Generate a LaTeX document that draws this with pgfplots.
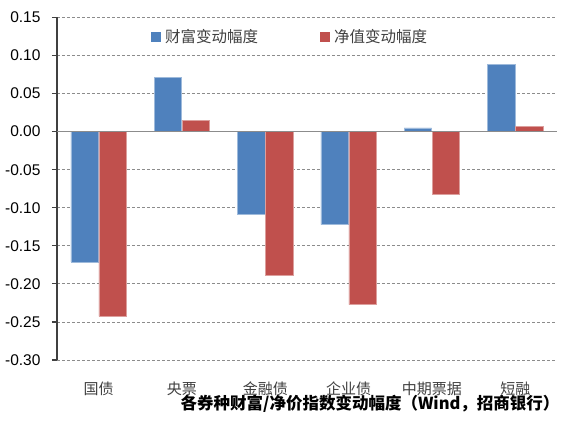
\documentclass[border=0pt]{standalone}
\usepackage{fontspec}
\setmainfont{Liberation Sans}
\newfontfamily\cjk{Noto Sans CJK SC}
\usepackage{pgfplots}
\pgfplotsset{compat=1.18}

\definecolor{wblue}{HTML}{4F81BD}
\definecolor{wred}{HTML}{C0504D}
\definecolor{tickgray}{HTML}{404040}

\begin{document}
\begin{tikzpicture}
\path[use as bounding box] (-57pt,-63pt) rectangle (509pt,360pt);
\begin{axis}[
    at={(0pt,0pt)}, anchor=south west,
    scale only axis,
    width=500pt, height=342.5pt,
    ybar=0.5pt,
    bar width=27.5pt,
    xmin=-0.5, xmax=5.5,
    ymin=-0.30, ymax=0.15,
    xtick={0,1,2,3,4,5},
    xticklabels={国债,央票,金融债,企业债,中期票据,短融},
    ytick={-0.30,-0.25,-0.20,-0.15,-0.10,-0.05,0,0.05,0.10,0.15},
    axis y line=left,
    axis x line=bottom,
    axis line style={-},
    x axis line style={draw=none},
    y axis line style={draw=black!75, line width=1.2pt},
    tick align=outside,
    major tick length=5pt,
    ytick style={draw=black!75, line width=1.2pt},
    xtick style={draw=none},
    ymajorgrids=true,
    grid style={densely dashed, black!45, line width=0.8pt},
    yticklabel style={font=\fontsize{15.5}{15.5}\selectfont, text=black, xshift=-8pt},
    xticklabel style={font=\cjk\fontsize{15}{15}\selectfont, text=tickgray, yshift=-13pt},
    /pgf/number format/.cd, fixed, fixed zerofill, precision=2, assume math mode=true,
    /pgfplots/.cd,
    legend columns=2,
    legend style={at={(0.188,0.943)}, anchor=west, draw=none, fill=none,
        inner sep=0pt, nodes={inner sep=0pt, font=\cjk\fontsize{15.5}{15.5}\selectfont, text=tickgray},
        /tikz/every odd column/.append style={column sep=4pt},
        /tikz/every even column/.append style={column sep=62pt}},
    legend image code/.code={\fill[#1, draw=none] (0pt,-5pt) rectangle (10pt,5pt);},
]
\addplot[fill=wblue, draw=wblue!55!white, line width=0.6pt] coordinates {
    (0,-0.171) (1,0.0708) (2,-0.1088) (3,-0.1223) (4,0.0049) (5,0.0884)
};
\addlegendentry{财富变动幅度}
\addplot[fill=wred, draw=wred!55!white, line width=0.6pt] coordinates {
    (0,-0.2426) (1,0.0149) (2,-0.1883) (3,-0.2272) (4,-0.0817) (5,0.0071)
};
\addlegendentry{净值变动幅度}
\draw[black!45, line width=1.3pt] (axis cs:-0.5,0) -- (axis cs:5.5,0);
\end{axis}
\node[anchor=east, font=\cjk\bfseries\fontsize{16.5}{16.5}\selectfont] at (506pt,-44pt) {各券种财富/净价指数变动幅度（Wind，招商银行）};
\end{tikzpicture}
\end{document}
